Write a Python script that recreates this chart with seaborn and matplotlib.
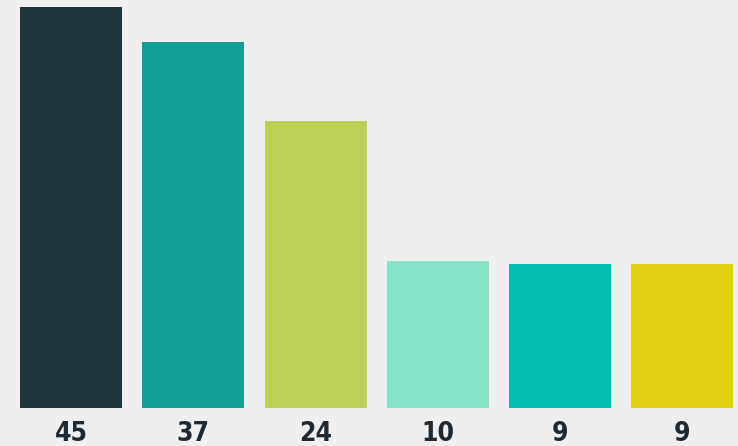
import matplotlib
matplotlib.use("Agg")
import matplotlib.pyplot as plt
import seaborn as sns
import pandas as pd
from matplotlib import font_manager

# Data
labels = ["45", "37", "24", "10", "9", "9"]
bar_heights = [45.0, 41.07, 32.22, 16.49, 16.12, 16.12]
colors = ["#1f343c", "#149e94", "#bdcf55", "#86e3c9", "#04bdb3", "#e1d016"]

df = pd.DataFrame({"cat": [f"c{i}" for i in range(len(labels))],
                   "height": bar_heights})

sns.set_theme(style="white")
plt.rcParams["font.family"] = ["DejaVu Sans"]

# find a condensed bold face
cond = None
for f in font_manager.fontManager.ttflist:
    if ("Condensed" in f.fname or "Narrow" in f.fname) and ("Bold" in f.fname) \
            and "Oblique" not in f.fname and "Italic" not in f.fname:
        cond = f.fname
        break

fig = plt.figure(figsize=(7.38, 4.46), dpi=100)
fig.patch.set_facecolor("#efefef")
ax = fig.add_axes([0, 0, 1, 1])
ax.set_facecolor("#efefef")

sns.barplot(data=df, x="cat", y="height", hue="cat", palette=colors,
            width=0.834, legend=False, ax=ax, saturation=1, linewidth=0)

for i, lab in enumerate(labels):
    kw = dict(ha="center", va="center", color="#1e2a33")
    if cond:
        kw["fontproperties"] = font_manager.FontProperties(fname=cond, size=19)
    else:
        kw["fontweight"] = "bold"
        kw["fontsize"] = 18
    ax.text(i, -2.9, lab, **kw)

ax.set_xlim(-0.5805, 5.454)
ax.set_ylim(-4.30, 45.82)
ax.axis("off")

fig.savefig("out.png", dpi=100, facecolor=fig.get_facecolor())
